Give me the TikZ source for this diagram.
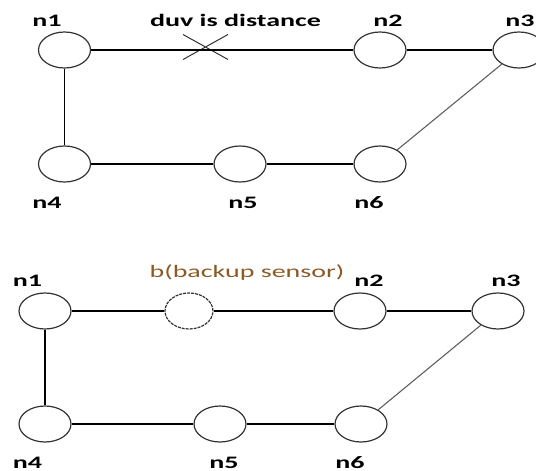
\documentclass[tikz,border=0pt]{standalone}
\usepackage{fontspec}
\setmainfont{Carlito}
\newfontfamily\widefont[FakeStretch=1.6]{Carlito}
\definecolor{rim}{RGB}{50,50,50}
\definecolor{slant}{RGB}{95,95,95}
\definecolor{backup}{RGB}{140,90,36}
\usetikzlibrary{shapes.geometric,shapes.misc}

\begin{document}
\begin{tikzpicture}[x=1pt,y=-1pt,
    sensor/.style={ellipse,draw=rim,line width=1.2pt,minimum width=52pt,minimum height=36pt,inner sep=0pt},
    spare/.style={sensor,minimum width=48pt,dash pattern=on 3pt off 1pt},
    tag/.style={anchor=base,inner sep=0pt,font=\widefont\bfseries\fontsize{17.5}{17.5}\selectfont},
    link/.style={line width=1.1pt},
    diag/.style={draw=slant,line width=1.1pt}]
  \useasboundingbox (0,0) rectangle (536,471);
  \clip (0,0) rectangle (536,471);
  % upper network: link n1-n2 is cut
  \foreach \name/\x/\y in {a1/64.5/50,a2/380/50,a3/519/50,a4/64.5/164,a5/240/164,a6/380/164}
    \node[sensor] (\name) at (\x,\y) {};
  \foreach \name/\x/\y/\txt in {ta1/47/26/n1,ta2/388/26/n2,ta3/520/26/n3,ta4/47/208/n4,ta5/243/208/n5,ta6/369/208/n6}
    \node[tag] (\name) at (\x,\y) {\txt};
  \node[tag] (duv) at (235.5,26) {duv is distance};
  \node[cross out,draw=rim,line width=1pt,minimum width=44pt,minimum height=24pt,inner sep=0pt] (cut) at (205.5,47) {};
  \draw[link] (a1) -- (a2) -- (a3);
  \draw[link] (a1) -- (a4) -- (a5) -- (a6);
  \draw[diag] (a3) -- (a6);
  % lower network: backup sensor b added
  \foreach \name/\x/\y in {b1/45/311,b2/360/311,b3/498/311,b4/45/424,b5/220/424,b6/361/424}
    \node[sensor] (\name) at (\x,\y) {};
  \node[spare] (bk) at (189,311) {};
  \foreach \name/\x/\y/\txt in {tb1/27.5/286/n1,tb2/369/286/n2,tb3/506/286/n3,tb4/27.5/468/n4,tb5/224/468/n5,tb6/350/468/n6}
    \node[tag] (\name) at (\x,\y) {\txt};
  \node[tag,font=\widefont\fontsize{17.5}{17.5}\selectfont,text=backup] (bkname) at (247,277) {b(backup sensor)};
  \draw[link] (b1) -- (bk) -- (b2) -- (b3);
  \draw[link] (b1) -- (b4) -- (b5) -- (b6);
  \draw[diag] (b3) -- (b6);
\end{tikzpicture}
\end{document}
